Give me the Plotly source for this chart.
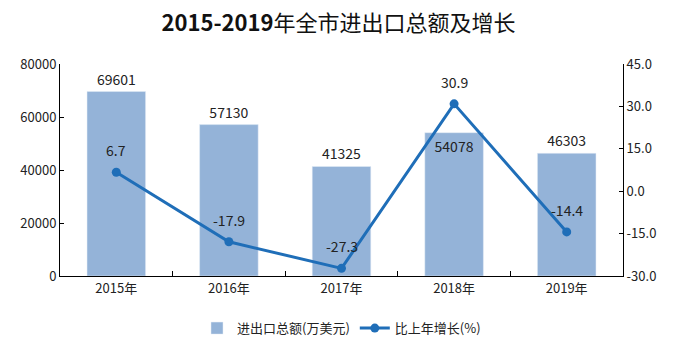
import plotly.graph_objects as go

years = ["2015年", "2016年", "2017年", "2018年", "2019年"]
totals = [69601, 57130, 41325, 54078, 46303]
growth = [6.7, -17.9, -27.3, 30.9, -14.4]
left_ticks = [0, 20000, 40000, 60000, 80000]
right_ticks = [-30, -15, 0, 15, 30, 45]

font_cn = "Noto Sans CJK SC, Liberation Sans, sans-serif"
bar_label_pos = ["outside", "outside", "outside", "inside", "outside"]

fig = go.Figure()
fig.add_trace(go.Bar(
    x=years, y=totals, name="进出口总额(万美元)",
    marker=dict(color="#94B3D8"), width=0.52,
    text=[str(v) for v in totals], textposition=bar_label_pos,
    insidetextanchor="end",
    textfont=dict(size=14, color="#222222"),
    insidetextfont=dict(size=14, color="#222222"),
    outsidetextfont=dict(size=14, color="#222222"),
    cliponaxis=False,
))
fig.add_trace(go.Scatter(
    x=years, y=growth, name="比上年增长(%)", yaxis="y2",
    mode="lines+markers",
    line=dict(color="#1F6EB8", width=3),
    marker=dict(size=9, color="#1F6EB8"),
    cliponaxis=False,
))

for yr, g in zip(years, growth):
    fig.add_annotation(x=yr, y=g, xref="x", yref="y2", text=f"{g:.1f}",
                       showarrow=False, yshift=22,
                       font=dict(size=14, color="#222222"))

fig.update_layout(
    width=677, height=354,
    margin=dict(l=60, r=54, t=64, b=78, autoexpand=False),
    paper_bgcolor="white", plot_bgcolor="white",
    font=dict(family=font_cn, size=13, color="#222222"),
    title=dict(text="<b>2015-2019</b>年全市进出口总额及增长", x=0.5, xanchor="center",
               y=0.935, yanchor="middle", font=dict(size=22, color="#111111")),
    showlegend=True,
    legend=dict(orientation="h", x=0.5, xanchor="center", yref="container",
                y=0.073, yanchor="middle", font=dict(size=13), traceorder="normal"),
    xaxis=dict(showline=True, linecolor="black", linewidth=1, ticks="inside",
               tickson="boundaries", ticklen=5, tickcolor="black",
               tickfont=dict(size=13), showgrid=False),
    yaxis=dict(range=[0, 80000], tickvals=left_ticks, tickformat="d", showline=True,
               linecolor="black", linewidth=1, ticks="inside", ticklen=4,
               tickcolor="black", showgrid=False, zeroline=False,
               tickfont=dict(size=13)),
    yaxis2=dict(range=[-30, 45], tickvals=right_ticks,
                ticktext=[f"{v:.1f}" for v in right_ticks],
                overlaying="y", side="right", showline=True, linecolor="black",
                linewidth=1, ticks="inside", ticklen=4, tickcolor="black",
                showgrid=False, zeroline=False, tickfont=dict(size=13)),
)

fig.write_html("out.html")
